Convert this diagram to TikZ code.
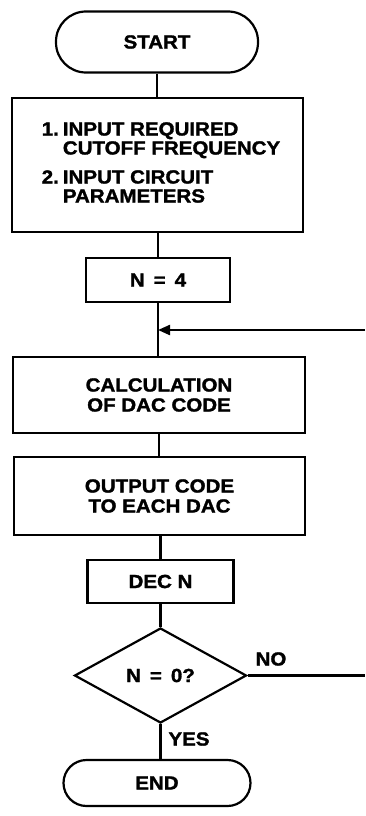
\documentclass[tikz,border=0pt]{standalone}
\usepackage{fontspec}
\setmainfont{Liberation Sans}[FakeStretch=1.08, BoldFeatures={FakeBold=1.5}]
\usetikzlibrary{shapes.geometric,arrows.meta}
\begin{document}
\begin{tikzpicture}[x=1pt,y=-1pt,
  every node/.style={font=\fontsize{19}{20}\selectfont\bfseries},
  box/.style={draw,line width=2.2pt,inner sep=0pt,align=center},
  term/.style={box,rounded corners=23pt},
  dec/.style={draw,line width=2.2pt,diamond,inner sep=0pt},
  conn/.style={line width=2.2pt},
  lbl/.style={inner sep=0pt}]
\useasboundingbox (0,0) rectangle (365,816);
\node[term,rounded corners=30pt,minimum width=202pt,minimum height=61pt] (start) at (157,42) {START};
\node[box,minimum width=291pt,minimum height=134pt] (inp) at (157.5,165)
  {\hspace{7pt}\begin{tabular}{@{}l@{\hspace{4pt}}l@{}}1. & INPUT REQUIRED\\[-1pt] & CUTOFF FREQUENCY\\[9pt]
   2. & INPUT CIRCUIT\\[-1pt] & PARAMETERS\end{tabular}};
\node[box,minimum width=144pt,minimum height=44pt] (n4) at (158,280) {N\hspace{9pt}=\hspace{9pt}4};
\coordinate (join) at (159,330);
\node[box,minimum width=292pt,minimum height=76pt] (calc) at (159,395) {CALCULATION\\OF DAC CODE};
\node[box,minimum width=291pt,minimum height=78pt] (out) at (159.5,496) {OUTPUT CODE\\TO EACH DAC};
\node[box,minimum width=146pt,minimum height=43pt] (decn) at (160.5,581.5) {DEC N};
\node[dec,minimum width=172pt,minimum height=95pt] (test) at (160.5,675.5) {N\hspace{9pt}=\hspace{9pt}0?};
\node[term,minimum width=187pt,minimum height=46pt] (end) at (157,783) {END};
\coordinate (noend) at (365,675.5);
\coordinate (loopin) at (365,330);
\node[lbl] (no) at (271,659) {NO};
\node[lbl] (yes) at (189,739) {YES};
\draw[conn] (start.south) -- (start.south |- inp.north);
\draw[conn] (inp.south -| n4) -- (n4.north);
\draw[conn] (n4.south) -- (n4.south |- calc.north);
\draw[conn] (calc.south) -- (calc.south |- out.north);
\draw[conn] (out.south -| decn) -- (decn.north);
\draw[conn] (decn.south) -- (test.north);
\draw[conn] (test.south) -- (test.south |- end.north);
\draw[conn] (test.east) -- (noend);
\draw[conn,-{Triangle[length=12pt,width=10pt]}] (loopin) -- (join -| n4.south);
\end{tikzpicture}
\end{document}
